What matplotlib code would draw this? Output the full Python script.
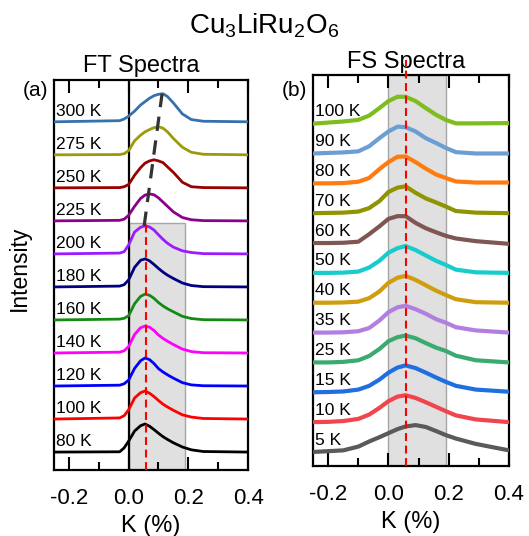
import matplotlib
matplotlib.use('Agg')
import matplotlib.pyplot as plt
from matplotlib.patches import Rectangle
from matplotlib.ticker import MultipleLocator, FormatStrFormatter

# ---------------- data ----------------
# FT spectra (panel a): shared K grid (%) and normalized intensities, bottom -> top
FT_K = [-0.25, -0.03, -0.015, 0.0, 0.02, 0.04, 0.055, 0.07, 0.085, 0.10,
        0.115, 0.13, 0.15, 0.18, 0.21, 0.25, 0.4]
FT_TEMPS = ['80 K', '100 K', '120 K', '140 K', '160 K', '180 K',
            '200 K', '225 K', '250 K', '275 K', '300 K']
FT_80 = [0, 0.01, 0.15, 0.39, 0.75, 0.94, 1.0, 0.92, 0.8, 0.67, 0.55, 0.45, 0.33, 0.18, 0.08, 0.02, 0.0]
FT_100 = [0, 0.04, 0.12, 0.33, 0.75, 0.94, 1.0, 0.92, 0.8, 0.66, 0.53, 0.43, 0.31, 0.15, 0.07, 0.02, 0.0]
FT_120 = [0, 0.03, 0.08, 0.21, 0.63, 0.9, 1.0, 0.94, 0.8, 0.62, 0.5, 0.4, 0.28, 0.12, 0.04, 0.01, 0.0]
FT_140 = [0, 0.03, 0.08, 0.23, 0.66, 0.9, 0.96, 0.92, 0.8, 0.64, 0.52, 0.42, 0.3, 0.14, 0.05, 0.01, 0.0]
FT_160 = [0, 0.03, 0.06, 0.15, 0.58, 0.84, 0.92, 0.88, 0.77, 0.62, 0.5, 0.4, 0.29, 0.13, 0.05, 0.01, 0.0]
FT_180 = [0, 0.03, 0.08, 0.25, 0.7, 0.95, 1.0, 0.93, 0.8, 0.66, 0.53, 0.42, 0.3, 0.14, 0.05, 0.01, 0.0]
FT_200 = [0, 0.03, 0.08, 0.32, 0.78, 0.95, 1.0, 0.96, 0.85, 0.68, 0.52, 0.38, 0.24, 0.11, 0.05, 0.01, 0.0]
FT_225 = [0, 0.02, 0.06, 0.2, 0.52, 0.8, 0.92, 0.96, 0.93, 0.82, 0.67, 0.52, 0.32, 0.12, 0.04, 0.01, 0.0]
FT_250 = [0, 0.01, 0.04, 0.12, 0.45, 0.72, 0.88, 0.96, 1.0, 0.96, 0.9, 0.75, 0.55, 0.2, 0.04, 0.01, 0.0]
FT_275 = [0, 0.01, 0.04, 0.15, 0.5, 0.7, 0.82, 0.9, 0.97, 1.0, 0.95, 0.82, 0.58, 0.27, 0.09, 0.02, 0.0]
FT_300 = [0, 0.04, 0.1, 0.2, 0.38, 0.6, 0.72, 0.84, 0.93, 0.98, 1.0, 0.9, 0.67, 0.28, 0.08, 0.02, 0.0]
FT_SERIES = [FT_80, FT_100, FT_120, FT_140, FT_160, FT_180,
             FT_200, FT_225, FT_250, FT_275, FT_300]
FT_COLORS = ['#000000', '#ff0000', '#0000ff', '#ff00ff', '#148a14', '#000080',
             '#9b1aff', '#8c008c', '#990000', '#9a9a0a', '#3670ad']
FT_TREND_K = [0.052, 0.112]          # peak positions of 200 K and 300 K
FT_TREND_T = ['200 K', '300 K']

# FS spectra (panel b)
FS_K = [-0.25, -0.2, -0.15, -0.1, -0.064, -0.03, 0.0, 0.03, 0.057, 0.09,
        0.124, 0.158, 0.19, 0.224, 0.29, 0.4]
FS_TEMPS = ['5 K', '10 K', '15 K', '25 K', '35 K', '40 K',
            '50 K', '60 K', '70 K', '80 K', '90 K', '100 K']
FS_5 = [0, 0.03, 0.06, 0.2, 0.39, 0.55, 0.7, 0.85, 0.95, 1.0, 0.93, 0.78, 0.63, 0.5, 0.3, 0.06]
FS_10 = [0, 0.01, 0.04, 0.12, 0.28, 0.53, 0.78, 0.95, 1.0, 0.9, 0.74, 0.57, 0.41, 0.25, 0.1, 0.0]
FS_15 = [0, 0.01, 0.03, 0.1, 0.24, 0.47, 0.73, 0.92, 1.0, 0.9, 0.73, 0.55, 0.39, 0.24, 0.1, 0.02]
FS_25 = [0, 0.0, 0.02, 0.08, 0.24, 0.5, 0.79, 0.94, 1.0, 0.9, 0.72, 0.55, 0.43, 0.25, 0.08, 0.0]
FS_35 = [0, 0.0, 0.01, 0.05, 0.17, 0.45, 0.76, 0.94, 1.0, 0.87, 0.7, 0.5, 0.37, 0.2, 0.08, 0.0]
FS_40 = [0, 0.0, 0.01, 0.04, 0.17, 0.42, 0.74, 0.93, 1.0, 0.85, 0.65, 0.45, 0.29, 0.13, 0.02, 0.0]
FS_50 = [0, 0.0, 0.01, 0.05, 0.2, 0.45, 0.75, 0.92, 1.0, 0.85, 0.65, 0.45, 0.3, 0.12, 0.02, 0.0]
FS_60 = [0, 0.0, 0.01, 0.05, 0.33, 0.62, 0.9, 1.0, 1.0, 0.75, 0.55, 0.4, 0.27, 0.17, 0.07, -0.03]
FS_70 = [0, 0.01, 0.02, 0.06, 0.19, 0.45, 0.79, 0.95, 1.0, 0.76, 0.55, 0.4, 0.25, 0.08, 0.02, 0.0]
FS_80 = [0, 0.0, 0.01, 0.06, 0.2, 0.53, 0.79, 0.99, 1.0, 0.79, 0.55, 0.33, 0.2, 0.07, 0.03, 0.03]
FS_90 = [0, 0.02, 0.04, 0.08, 0.27, 0.57, 0.82, 1.0, 0.98, 0.82, 0.57, 0.39, 0.21, 0.05, 0.0, 0.0]
FS_100 = [0, 0.04, 0.08, 0.14, 0.3, 0.58, 0.84, 1.0, 1.0, 0.84, 0.58, 0.33, 0.14, 0.01, 0.01, 0.02]
FS_SERIES = [FS_5, FS_10, FS_15, FS_25, FS_35, FS_40,
             FS_50, FS_60, FS_70, FS_80, FS_90, FS_100]
FS_COLORS = ['#5a5a5a', '#f0454d', '#1f6fe0', '#3aaa6e', '#b27ee0', '#d09c10',
             '#18cccc', '#7f5652', '#8f9400', '#ff7b10', '#6b9fd3', '#7dbd1e']

CENTER_K = 0.057            # red dashed reference position
ROI_K = (0.0, 0.19)         # shaded K window
XTICKS = [-0.2, 0.0, 0.2, 0.4]

# ---------------- style ----------------
plt.rcParams['font.family'] = ['Liberation Sans', 'DejaVu Sans']
plt.rcParams['mathtext.default'] = 'regular'
plt.rcParams['axes.unicode_minus'] = False

fig = plt.figure(figsize=(5.29, 5.36), dpi=100)
axA = fig.add_axes([0.102, 0.123, 0.367, 0.728])
axB = fig.add_axes([0.592, 0.1306, 0.370, 0.7295])

FT_SCALE = 0.85
FS_SCALE = 0.9

# ---- panel a ----
ylimA = (-0.545, 11.27)
top_rect = FT_TEMPS.index('225 K') - 0.05
axA.add_patch(Rectangle((ROI_K[0], ylimA[0] - 1), ROI_K[1] - ROI_K[0],
                        top_rect - ylimA[0] + 1, fc='#e0e0e0', ec='#a6a6a6',
                        lw=1.0, zorder=1))
axA.axvline(0.0, color='k', lw=1.6, zorder=2)
for i, (T, vals, c) in enumerate(zip(FT_TEMPS, FT_SERIES, FT_COLORS)):
    axA.plot(FT_K, [i + FT_SCALE * v for v in vals], color=c, lw=2.0,
             solid_joinstyle='round', zorder=3)
    axA.text(-0.243, i + 0.18, T, fontsize=12.5, ha='left', va='baseline', zorder=4)
axA.plot([CENTER_K, CENTER_K], [ylimA[0], top_rect], color='red', lw=1.5,
         dashes=(3.8, 2.2), zorder=5)
trend_y = [FT_TEMPS.index(t) + FT_SCALE * 1.0 for t in FT_TREND_T]
axA.plot(FT_TREND_K, trend_y, color='#333333', lw=2.3, dashes=(4.5, 3.0), zorder=5)
axA.set_ylim(*ylimA)

# ---- panel b ----
ylimB = (-0.47, 12.63)
axB.axvspan(ROI_K[0], ROI_K[1], fc='#e0e0e0', ec='#a6a6a6', lw=1.0, zorder=1)
for i, (T, vals, c) in enumerate(zip(FS_TEMPS, FS_SERIES, FS_COLORS)):
    axB.plot(FS_K, [i + FS_SCALE * v for v in vals], color=c, lw=3.0,
             solid_joinstyle='round', solid_capstyle='round', zorder=3)
    axB.text(-0.243, i + 0.25, T, fontsize=12.5, ha='left', va='baseline', zorder=4)
axB.plot([CENTER_K, CENTER_K], [ylimB[0], ylimB[1] + 0.5], color='red', lw=1.5,
         dashes=(3.8, 2.2), zorder=5, clip_on=False)
axB.set_ylim(*ylimB)

for ax in (axA, axB):
    ax.set_xlim(-0.25, 0.4)
    ax.set_xticks(XTICKS)
    ax.xaxis.set_major_formatter(FormatStrFormatter('%.1f'))
    ax.xaxis.set_minor_locator(MultipleLocator(0.1))
    ax.tick_params(axis='x', which='both', direction='in', top=True, bottom=True,
                   width=1.5, labelsize=16, pad=13)
    ax.tick_params(axis='x', which='major', length=9.5)
    ax.tick_params(axis='x', which='minor', length=6)
    ax.set_yticks([])
    for s in ax.spines.values():
        s.set_linewidth(1.6)
    ax.set_xlabel('K (%)', fontsize=17, labelpad=4)

fig.text(19 / 529, 1 - 268 / 536, 'Intensity', rotation=90, ha='center',
         va='center', fontsize=16.5)
fig.text(141 / 529, 1 - 72 / 536, 'FT Spectra', ha='center', va='baseline', fontsize=17)
fig.text(406 / 529, 1 - 68 / 536, 'FS Spectra', ha='center', va='baseline', fontsize=17)
fig.text(35 / 529, 1 - 91 / 536, '(a)', ha='center', va='center', fontsize=15)
fig.text(294 / 529, 1 - 90 / 536, '(b)', ha='center', va='center', fontsize=15)
fig.text(264 / 529, 1 - 33 / 536, 'Cu$_3$LiRu$_2$O$_6$', ha='center',
         va='baseline', fontsize=20)

fig.savefig('out.png', dpi=100)
